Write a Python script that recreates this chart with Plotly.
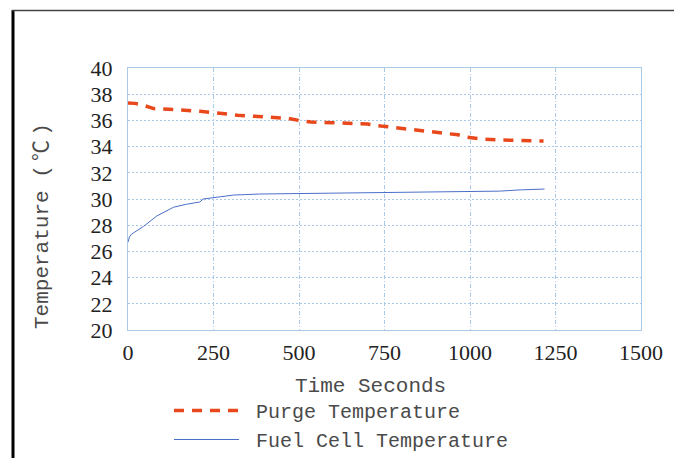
import plotly.graph_objects as go

purge_t = [0, 20, 40, 60, 75, 100, 150, 210, 260, 320, 380, 430, 470, 505, 535, 600, 660, 700, 740, 790, 845, 890, 940, 965, 990, 1040, 1095, 1150, 1215]
purge_v = [37.33, 37.3, 37.2, 37.0, 36.9, 36.88, 36.82, 36.7, 36.57, 36.4, 36.3, 36.22, 36.15, 35.97, 35.87, 35.82, 35.77, 35.72, 35.57, 35.43, 35.29, 35.12, 35.02, 34.9, 34.72, 34.57, 34.5, 34.47, 34.43]

fuel_t = [0, 4, 11, 45, 84, 133, 171, 210, 220, 249, 308, 385, 561, 700, 853, 989, 1086, 1150, 1218]
fuel_v = [26.7, 27.1, 27.33, 27.9, 28.7, 29.37, 29.6, 29.77, 30.0, 30.08, 30.3, 30.38, 30.43, 30.5, 30.53, 30.54, 30.6, 30.7, 30.76]

x_ticks = [0, 250, 500, 750, 1000, 1250, 1500]
y_ticks = [20, 22, 24, 26, 28, 30, 32, 34, 36, 38, 40]

fig = go.Figure()
fig.add_trace(go.Scatter(x=purge_t, y=purge_v, mode="lines", name="\u00a0Purge Temperature",
                         line=dict(color="#E8481C", width=3.5, dash="10px,8px")))
fig.add_trace(go.Scatter(x=fuel_t, y=fuel_v, mode="lines", name="\u00a0Fuel Cell Temperature",
                         line=dict(color="#4A6FC9", width=1)))

grid_col = "#A9C9E8"
tick_font = dict(family="'Liberation Serif', 'Times New Roman', Times, serif", size=22, color="#222222")
mono = "'Liberation Mono', 'Courier New', 'Noto Sans CJK SC', monospace"
text_col = "#4a4a4a"

fig.update_layout(
    width=674, height=458,
    margin=dict(l=128, r=33, t=68, b=128),
    paper_bgcolor="white", plot_bgcolor="white",
    showlegend=True,
    legend=dict(x=(169 - 128) / 513, y=1 - 391 / 458, xanchor="left", yanchor="top",
                yref="container", orientation="v",
                font=dict(family=mono, size=20, color=text_col),
                itemwidth=65, tracegroupgap=0, bgcolor="rgba(0,0,0,0)"),
    xaxis=dict(range=[0, 1500], tickvals=x_ticks, ticktext=[str(v) for v in x_ticks],
               showgrid=True, gridcolor=grid_col, griddash="4px,2px,1px,2px", gridwidth=1,
               showline=True, linecolor=grid_col, linewidth=1, mirror=True,
               zeroline=False, ticks="outside", ticklen=3, tickcolor="rgba(0,0,0,0)",
               tickfont=tick_font),
    yaxis=dict(range=[20, 40], tickvals=y_ticks,
               showgrid=True, gridcolor=grid_col, griddash="2px,2px", gridwidth=1,
               showline=True, linecolor=grid_col, linewidth=1, mirror=True,
               zeroline=False, ticks="outside", ticklen=10, tickcolor="rgba(0,0,0,0)",
               tickfont=tick_font),
)

fig.add_annotation(text="Time Seconds", xref="paper", yref="paper",
                   x=(370 - 128) / 513, y=(330 - 386) / 262, xanchor="center", yanchor="middle",
                   showarrow=False, font=dict(family=mono, size=21, color=text_col))
fig.add_annotation(text="Temperature (\u2009℃\u2009)", xref="paper", yref="paper",
                   x=(42 - 128) / 513, y=(330 - 226) / 262, xanchor="center", yanchor="middle",
                   showarrow=False, textangle=-90,
                   font=dict(family=mono, size=21, color=text_col))

# outer frame lines
fig.add_shape(type="line", xref="paper", yref="paper",
              x0=(13 - 128) / 513, x1=(13 - 128) / 513, y0=(330 - 10) / 262, y1=(330 - 470) / 262,
              line=dict(color="black", width=3))
fig.add_shape(type="line", xref="paper", yref="paper",
              x0=(12 - 128) / 513, x1=(700 - 128) / 513, y0=(330 - 10.5) / 262, y1=(330 - 10.5) / 262,
              line=dict(color="#444444", width=1.5))

fig.write_html("out.html", config={"displayModeBar": False},
               post_script="document.body.style.margin='0';document.body.style.overflow='hidden';")
